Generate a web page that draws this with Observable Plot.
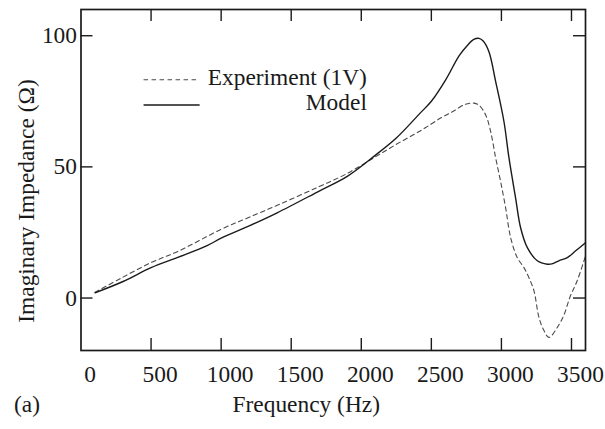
<!DOCTYPE html>
<html><head><meta charset="utf-8">
<script src="https://cdn.jsdelivr.net/npm/d3@7"></script>
<script src="https://cdn.jsdelivr.net/npm/@observablehq/plot@0.6"></script>
<style>body{margin:0;background:#fff}</style>
</head><body><div id="chart"></div>
<script>
// Experiment (1V) — dashed
const expFreq = [100, 280, 500, 700, 1000, 1200, 1424, 1700, 1900, 2090, 2250, 2423, 2566, 2650, 2744, 2804, 2840, 2887, 2923, 2959, 2994, 3030, 3066, 3113, 3161, 3196, 3232, 3268, 3300, 3339, 3399, 3446, 3490, 3540, 3600];
const expVal  = [2.2, 7.4, 13.5, 18, 26.2, 30.8, 35.9, 42.5, 47.5, 53.5, 58.6, 63.8, 68.6, 71, 73.9, 74.3, 73.5, 69.9, 63.5, 53.4, 44.5, 34.4, 23, 15.4, 11.6, 7.8, 2.8, -7.4, -12, -15, -11.2, -6.5, 0.5, 6.5, 16];
// Model — solid
const modelFreq = [100, 300, 500, 700, 900, 1000, 1200, 1400, 1700, 1900, 2090, 2250, 2420, 2500, 2600, 2700, 2760, 2800, 2840, 2870, 2911, 2959, 3018, 3054, 3101, 3137, 3185, 3256, 3328, 3360, 3410, 3470, 3530, 3600];
const modelVal  = [2, 6.3, 11.6, 15.7, 20, 22.8, 27.5, 32.5, 40.8, 46.4, 54, 61, 70.5, 75, 83, 92.5, 96.5, 98.5, 99, 98, 93.9, 82.5, 67.3, 53.4, 38.2, 26.8, 19.2, 14.2, 12.9, 13, 14.2, 15.4, 18, 21.1];

const xTicks = [0, 500, 1000, 1500, 2000, 2500, 3000, 3500];
const yTicks = [0, 50, 100];
const xDomain = [0, 3600];
const yDomain = [-20, 110];

const legendLabels = ["Experiment (1V)", "Model"];
const legendY = [83.2, 73.6];
const legendKeyX = [450, 850];
const legendTextX = 2040;

const W = 605, H = 429, mt = 9, mb = 79, ml = 80.5, mr = 20;
const fw = W - ml - mr, fh = H - mt - mb;
const ink = "#1a1a1a";
const font = "'Liberation Serif', 'Times New Roman', serif";
const fs = 23.4;

const expData = expFreq.map((f, i) => ({f, v: expVal[i]}));
const modelData = modelFreq.map((f, i) => ({f, v: modelVal[i]}));
const legendData = legendLabels.map((label, i) => ({label, y: legendY[i], x1: legendKeyX[0], x2: legendKeyX[1], tx: legendTextX}));

const chart = Plot.plot({
  width: W, height: H,
  marginTop: mt, marginBottom: mb, marginLeft: ml, marginRight: mr,
  x: {domain: xDomain},
  y: {domain: yDomain},
  style: {fontFamily: font, fontSize: fs + "px", color: ink, background: "#fff"},
  marks: [
    Plot.line(expData, {x: "f", y: "v", curve: "catmull-rom", stroke: "#4a4a4a", strokeWidth: 1.1, strokeDasharray: "4.5,3.5"}),
    Plot.line(modelData, {x: "f", y: "v", curve: "catmull-rom", stroke: ink, strokeWidth: 1.4}),
    Plot.frame({stroke: ink, strokeWidth: 1.7}),
    Plot.tickX(xTicks.slice(1), {x: d => d, insetTop: fh - 12, stroke: ink, strokeWidth: 1.4}),
    Plot.tickX(xTicks.slice(1), {x: d => d, insetBottom: fh - 12, stroke: ink, strokeWidth: 1.4}),
    Plot.tickY(yTicks, {y: d => d, insetRight: fw - 12, stroke: ink, strokeWidth: 1.4}),
    Plot.tickY(yTicks, {y: d => d, insetLeft: fw - 12, stroke: ink, strokeWidth: 1.4}),
    Plot.axisX({ticks: xTicks, tickFormat: d => String(d), tickSize: 0, tickPadding: 15, dx: 9, label: null, fontSize: fs, fontFamily: font}),
    Plot.axisY({ticks: yTicks, tickFormat: d => String(d), tickSize: 0, tickPadding: 4, label: null, fontSize: fs, fontFamily: font}),
    Plot.ruleY(legendData.slice(0, 1), {y: "y", x1: "x1", x2: "x2", stroke: "#4a4a4a", strokeWidth: 1.1, strokeDasharray: "4.5,3.5"}),
    Plot.ruleY(legendData.slice(1), {y: "y", x1: "x1", x2: "x2", stroke: ink, strokeWidth: 1.4}),
    Plot.text(legendData, {x: "tx", y: "y", text: "label", textAnchor: "end", dy: -2.5, fill: ink, fontSize: fs, fontFamily: font}),
    Plot.text(["Frequency (Hz)"], {text: d => d, frameAnchor: "bottom", textAnchor: "middle", dx: -27, dy: 61.6, fill: ink, fontSize: fs, fontFamily: font}),
    Plot.text(["(a)"], {text: d => d, frameAnchor: "bottom-left", textAnchor: "start", dx: -67, dy: 61.6, fill: ink, fontSize: fs, fontFamily: font}),
    Plot.text(["Imaginary Impedance (Ω)"], {text: d => d, frameAnchor: "left", textAnchor: "middle", rotate: -90, dx: -55, dy: 21, fill: ink, fontSize: fs, fontFamily: font})
  ]
});
document.getElementById("chart").append(chart);
</script>
</body></html>
